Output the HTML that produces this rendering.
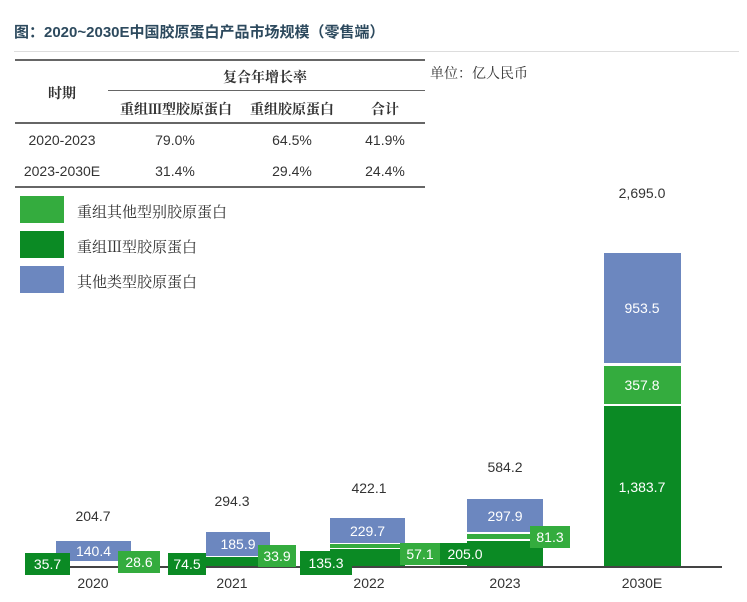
<!DOCTYPE html>
<html><head><meta charset="utf-8"><style>
*{margin:0;padding:0;box-sizing:border-box}
body{width:747px;height:602px;background:#fff;position:relative;overflow:hidden;font-family:"Liberation Sans","Noto Sans CJK SC",sans-serif;color:#333}
.a{position:absolute}
.t{position:absolute;white-space:nowrap;transform:translate(-50%,-50%);font-size:14px}
.s{font-family:"Liberation Serif","Noto Serif CJK SC",serif}
.bl{background:#6c87bf}.lg{background:#34ac3e}.dg{background:#0b8a24}
.w{color:#fff}.box{position:absolute;color:#fff;font-size:14px;display:flex;align-items:center;justify-content:center}
</style></head><body>
<div class="a" style="left:14px;top:21px;font-size:15px;font-weight:bold;color:#2d4a5e">图：2020~2030E中国胶原蛋白产品市场规模（零售端）</div>
<div class="a" style="left:14px;top:51px;width:725px;height:1px;background:#ddd"></div>
<div class="a" style="left:15px;top:59px;width:410px;height:2px;background:#666"></div>
<div class="a" style="left:108px;top:90px;width:317px;height:1px;background:#666"></div>
<div class="a" style="left:15px;top:122px;width:410px;height:2px;background:#666"></div>
<div class="a" style="left:15px;top:186px;width:410px;height:2px;background:#666"></div>
<div class="t s" style="left:62px;top:93px;font-weight:bold;font-size:14px">时期</div>
<div class="t s" style="left:265px;top:77px;font-weight:bold;font-size:14px">复合年增长率</div>
<div class="t s" style="left:176px;top:109px;font-weight:bold;font-size:14px">重组Ⅲ型胶原蛋白</div>
<div class="t s" style="left:292px;top:109px;font-weight:bold;font-size:14px">重组胶原蛋白</div>
<div class="t s" style="left:385px;top:109px;font-weight:bold;font-size:14px">合计</div>
<div class="t" style="left:62px;top:140px;font-size:14px">2020-2023</div>
<div class="t" style="left:175px;top:140px;font-size:14px">79.0%</div>
<div class="t" style="left:292px;top:140px;font-size:14px">64.5%</div>
<div class="t" style="left:385px;top:140px;font-size:14px">41.9%</div>
<div class="t" style="left:62px;top:171px;font-size:14px">2023-2030E</div>
<div class="t" style="left:175px;top:171px;font-size:14px">31.4%</div>
<div class="t" style="left:292px;top:171px;font-size:14px">29.4%</div>
<div class="t" style="left:385px;top:171px;font-size:14px">24.4%</div>
<div class="a s" style="left:430px;top:63px;font-size:14px">单位：亿人民币</div>

<div class="a lg" style="left:20px;top:196px;width:44px;height:27px"></div>
<div class="a dg" style="left:20px;top:231px;width:44px;height:27px"></div>
<div class="a bl" style="left:20px;top:266px;width:44px;height:27px"></div>
<div class="a s" style="left:77px;top:201px;font-size:15px">重组其他型别胶原蛋白</div>
<div class="a s" style="left:77px;top:236px;font-size:15px">重组Ⅲ型胶原蛋白</div>
<div class="a s" style="left:77px;top:271px;font-size:15px">其他类型胶原蛋白</div>

<div class="a dg" style="left:604px;top:406px;width:77px;height:161px"></div>
<div class="a lg" style="left:604px;top:366px;width:77px;height:38px"></div>
<div class="a bl" style="left:604px;top:253px;width:77px;height:110px"></div>
<div class="t" style="left:642px;top:193px">2,695.0</div>
<div class="t w" style="left:642px;top:308px">953.5</div>
<div class="t w" style="left:642px;top:385px">357.8</div>
<div class="t w" style="left:642px;top:487px">1,383.7</div>

<div class="a dg" style="left:206px;top:557px;width:64px;height:10px"></div>
<div class="a dg" style="left:330px;top:549px;width:75px;height:18px"></div>
<div class="a lg" style="left:330px;top:544px;width:75px;height:4px"></div>
<div class="a dg" style="left:467px;top:541px;width:76px;height:26px"></div>
<div class="a lg" style="left:467px;top:534px;width:76px;height:5px"></div>

<div class="a" style="left:25px;top:566px;width:697px;height:2px;background:#444"></div>

<div class="box bl" style="left:56px;top:541px;width:75px;height:20px">140.4</div>
<div class="box dg" style="left:25px;top:553px;width:45px;height:22px">35.7</div>
<div class="box lg" style="left:118px;top:551px;width:42px;height:22px">28.6</div>
<div class="t" style="left:93px;top:516px">204.7</div>

<div class="box bl" style="left:206px;top:532px;width:64px;height:24px">185.9</div>
<div class="box dg" style="left:168px;top:553px;width:38px;height:22px">74.5</div>
<div class="box lg" style="left:258px;top:545px;width:38px;height:22px">33.9</div>
<div class="t" style="left:232px;top:501px">294.3</div>

<div class="box bl" style="left:330px;top:518px;width:75px;height:25px">229.7</div>
<div class="box dg" style="left:300px;top:551px;width:52px;height:24px">135.3</div>
<div class="box lg" style="left:400px;top:543px;width:40px;height:22px">57.1</div>
<div class="t" style="left:369px;top:488px">422.1</div>

<div class="box bl" style="left:467px;top:499px;width:76px;height:33px">297.9</div>
<div class="box dg" style="left:440px;top:543px;width:50px;height:22px">205.0</div>
<div class="box lg" style="left:530px;top:526px;width:40px;height:22px">81.3</div>
<div class="t" style="left:505px;top:467px">584.2</div>

<div class="t" style="left:93px;top:583px">2020</div>
<div class="t" style="left:232px;top:583px">2021</div>
<div class="t" style="left:369px;top:583px">2022</div>
<div class="t" style="left:505px;top:583px">2023</div>
<div class="t" style="left:642px;top:583px">2030E</div>
</body></html>
